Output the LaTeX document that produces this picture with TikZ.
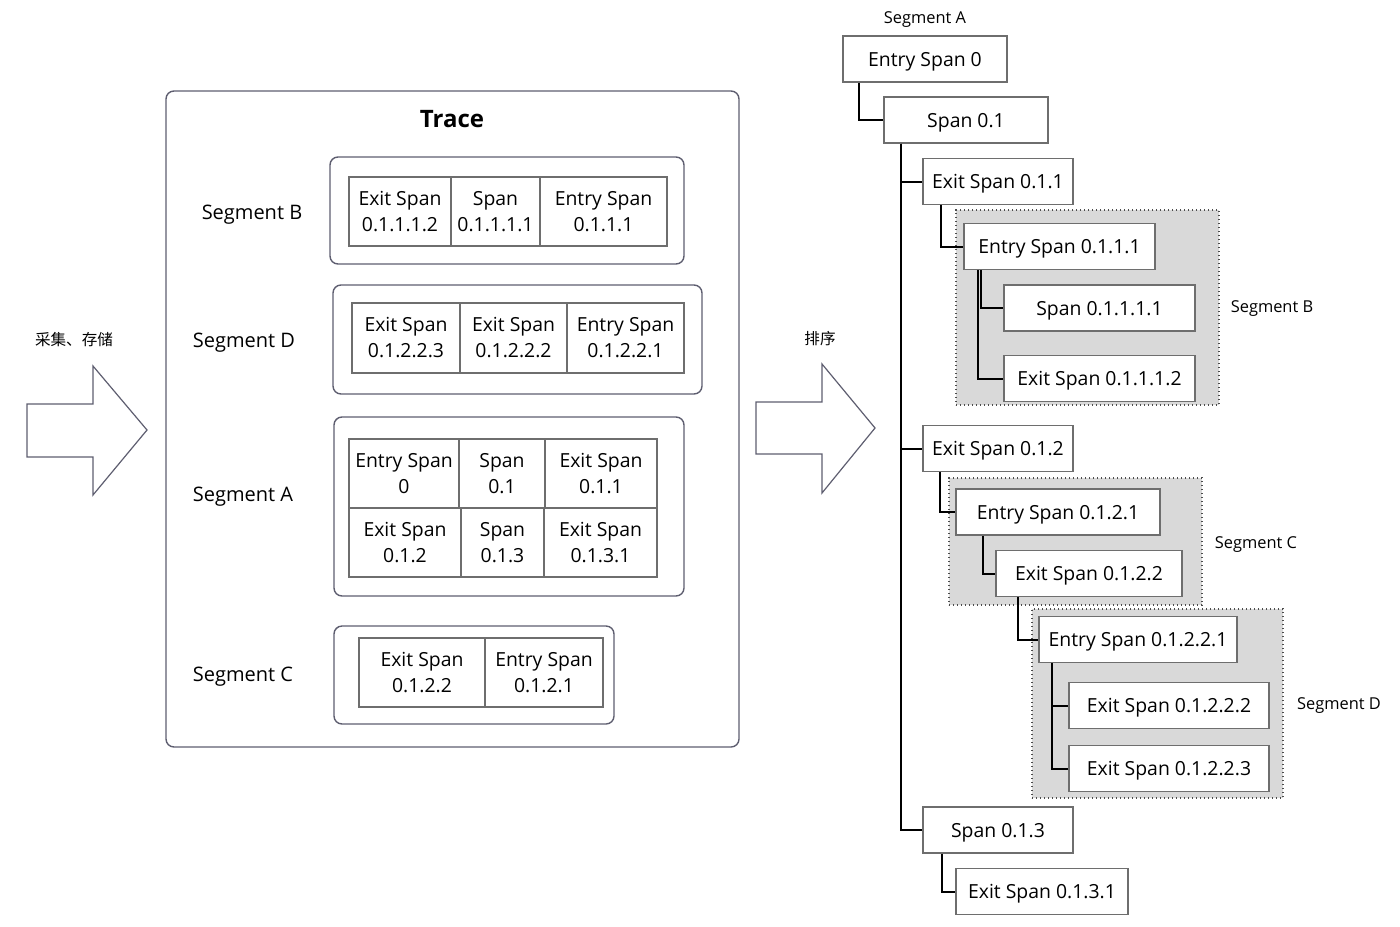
\documentclass[tikz,border=0pt]{standalone}
\usepackage{fontspec}
\setmainfont{Open Sans}
\newfontfamily\cjkfont{Noto Sans CJK SC}

\definecolor{framegray}{HTML}{5E5E70}
\definecolor{cellgray}{HTML}{6E6E6E}
\definecolor{shadegray}{HTML}{D9D9D9}

\begin{document}
\begin{tikzpicture}[
    x=0.5pt,
    y=-0.5pt,
    font=\fontsize{9.7pt}{13pt}\selectfont,
    bigarrow/.style={
        draw=framegray,
        line width=0.6pt,
        fill=white,
        line join=miter
    },
    segframe/.style={
        draw=framegray,
        rounded corners=4pt,
        line width=0.7pt,
        inner sep=0pt
    },
    cell/.style={
        draw=cellgray,
        line width=0.6pt,
        align=center,
        inner sep=0pt,
        minimum height=34.5pt
    },
    treenode/.style={
        draw=cellgray,
        fill=white,
        line width=0.7pt,
        inner sep=0pt,
        text depth=0pt,
        minimum height=23pt
    },
    segshade/.style={
        draw=black!70,
        fill=shadegray,
        line width=0.6pt,
        dash pattern=on 0.7pt off 1.3pt,
        inner sep=0pt
    },
    link/.style={
        draw=black,
        line width=1pt
    },
    seglabel/.style={
        font=\fontsize{10pt}{12pt}\selectfont,
        yshift=-1.5pt
    },
    treelabel/.style={
        font=\fontsize{8.2pt}{10pt}\selectfont,
        yshift=-1.5pt
    },
    cnlabel/.style={
        font=\fontsize{7.8pt}{9pt}\cjkfont
    }
]
    \useasboundingbox (0,0) rectangle (1400,926);

    % big arrows
    \draw[bigarrow] (27,404) -- (93,404) -- (93,366) -- (147,430)
        -- (93,495) -- (93,457) -- (27,457) -- cycle;
    \node[cnlabel] (collect) at (74,340) {采集、存储};

    \draw[bigarrow] (756,402) -- (822,402) -- (822,364) -- (875,428)
        -- (822,493) -- (822,454) -- (756,454) -- cycle;
    \node[cnlabel] (sort) at (820,339) {排序};

    % trace
    \node[segframe, minimum width=286.5pt, minimum height=328pt] (trace) at (452.5,419) {};
    \node[font=\fontsize{12pt}{14pt}\selectfont\bfseries] (title) at (452,119) {Trace};

    % segment B
    \node[seglabel] (lab-b) at (252,212) {Segment B};
    \node[segframe, minimum width=177pt, minimum height=53.5pt] (seg-b) at (507,210.5) {};
    \node[cell, minimum width=51pt] (b1) at (400,211.5) {Exit Span\\0.1.1.1.2};
    \node[cell, minimum width=44.5pt] (b2) at (495.5,211.5) {Span\\0.1.1.1.1};
    \node[cell, minimum width=63.5pt] (b3) at (603.5,211.5) {Entry Span\\0.1.1.1};

    % segment D
    \node[seglabel] (lab-d) at (244,340) {Segment D};
    \node[segframe, minimum width=184.5pt, minimum height=54.5pt] (seg-d) at (517.5,339.5) {};
    \node[cell, minimum width=54pt, minimum height=35pt] (d1) at (406,338) {Exit Span\\0.1.2.2.3};
    \node[cell, minimum width=53.5pt, minimum height=35pt] (d2) at (513.5,338) {Exit Span\\0.1.2.2.2};
    \node[cell, minimum width=58.5pt, minimum height=35pt] (d3) at (625.5,338) {Entry Span\\0.1.2.2.1};

    % segment A
    \node[seglabel] (lab-a) at (243,494) {Segment A};
    \node[segframe, minimum width=175pt, minimum height=89.5pt] (seg-a) at (509,506.5) {};
    \node[cell, minimum width=55pt] (a1) at (404,473.5) {Entry Span\\0};
    \node[cell, minimum width=43pt] (a2) at (502,473.5) {Span\\0.1};
    \node[cell, minimum width=56pt] (a3) at (601,473.5) {Exit Span\\0.1.1};
    \node[cell, minimum width=56pt] (a4) at (405,542.5) {Exit Span\\0.1.2};
    \node[cell, minimum width=41.5pt] (a5) at (502.5,542.5) {Span\\0.1.3};
    \node[cell, minimum width=56.5pt] (a6) at (600.5,542.5) {Exit Span\\0.1.3.1};

    % segment C
    \node[seglabel] (lab-c) at (243,674) {Segment C};
    \node[segframe, minimum width=140pt, minimum height=49pt] (seg-c) at (474,675) {};
    \node[cell, minimum width=63pt] (c1) at (422,672.5) {Exit Span\\0.1.2.2};
    \node[cell, minimum width=59pt] (c2) at (544,672.5) {Entry Span\\0.1.2.1};

    % sorted tree
    \node[segshade, minimum width=131.5pt, minimum height=97.5pt] (shade-b) at (1087.5,307.5) {};
    \node[segshade, minimum width=126.5pt, minimum height=63.5pt] (shade-c) at (1075.5,541.5) {};
    \node[segshade, minimum width=125.5pt, minimum height=94.5pt] (shade-d) at (1157.5,703.5) {};

    \node[treelabel] (tlab-a) at (925,17) {Segment A};
    \node[treelabel] (tlab-b) at (1272,306) {Segment B};
    \node[treelabel] (tlab-c) at (1256,542) {Segment C};
    \node[treelabel] (tlab-d) at (1339,703) {Segment D};

    \node[treenode, minimum width=82pt] (t0) at (925,59) {Entry Span 0};
    \node[treenode, minimum width=82pt] (t01) at (966,120) {Span 0.1};
    \node[treenode, minimum width=75pt] (t011) at (998,181.5) {Exit Span 0.1.1};
    \node[treenode, minimum width=95.5pt] (t0111) at (1059.5,246.5) {Entry Span 0.1.1.1};
    \node[treenode, minimum width=95.5pt] (t01111) at (1099.5,308) {Span 0.1.1.1.1};
    \node[treenode, minimum width=95.5pt] (t01112) at (1099.5,378.5) {Exit Span 0.1.1.1.2};
    \node[treenode, minimum width=75pt] (t012) at (998,448.5) {Exit Span 0.1.2};
    \node[treenode, minimum width=102pt] (t0121) at (1058,512) {Entry Span 0.1.2.1};
    \node[treenode, minimum width=93pt] (t0122) at (1089,573.5) {Exit Span 0.1.2.2};
    \node[treenode, minimum width=99pt] (t01221) at (1138,639.5) {Entry Span 0.1.2.2.1};
    \node[treenode, minimum width=100pt] (t01222) at (1169,705.5) {Exit Span 0.1.2.2.2};
    \node[treenode, minimum width=100pt] (t01223) at (1169,768.5) {Exit Span 0.1.2.2.3};
    \node[treenode, minimum width=75pt] (t013) at (998,830) {Span 0.1.3};
    \node[treenode, minimum width=86pt] (t0131) at (1042,891.5) {Exit Span 0.1.3.1};

    \draw[link] ([xshift=8.5pt]t0.south west) |- (t01.west);
    \draw[link] ([xshift=9pt]t01.south west) |- (t011.west);
    \draw[link] ([xshift=9pt]t01.south west) |- (t012.west);
    \draw[link] ([xshift=9pt]t01.south west) |- (t013.west);
    \draw[link] ([xshift=9.5pt]t011.south west) |- (t0111.west);
    \draw[link] ([xshift=9pt]t0111.south west) |- (t01111.west);
    \draw[link] ([xshift=7.5pt]t0111.south west) |- (t01112.west);
    \draw[link] ([xshift=9pt]t012.south west) |- (t0121.west);
    \draw[link] ([xshift=14pt]t0121.south west) |- (t0122.west);
    \draw[link] ([xshift=11.5pt]t0122.south west) |- (t01221.west);
    \draw[link] ([xshift=7pt]t01221.south west) |- (t01222.west);
    \draw[link] ([xshift=7pt]t01221.south west) |- (t01223.west);
    \draw[link] ([xshift=10pt]t013.south west) |- (t0131.west);
\end{tikzpicture}
\end{document}
